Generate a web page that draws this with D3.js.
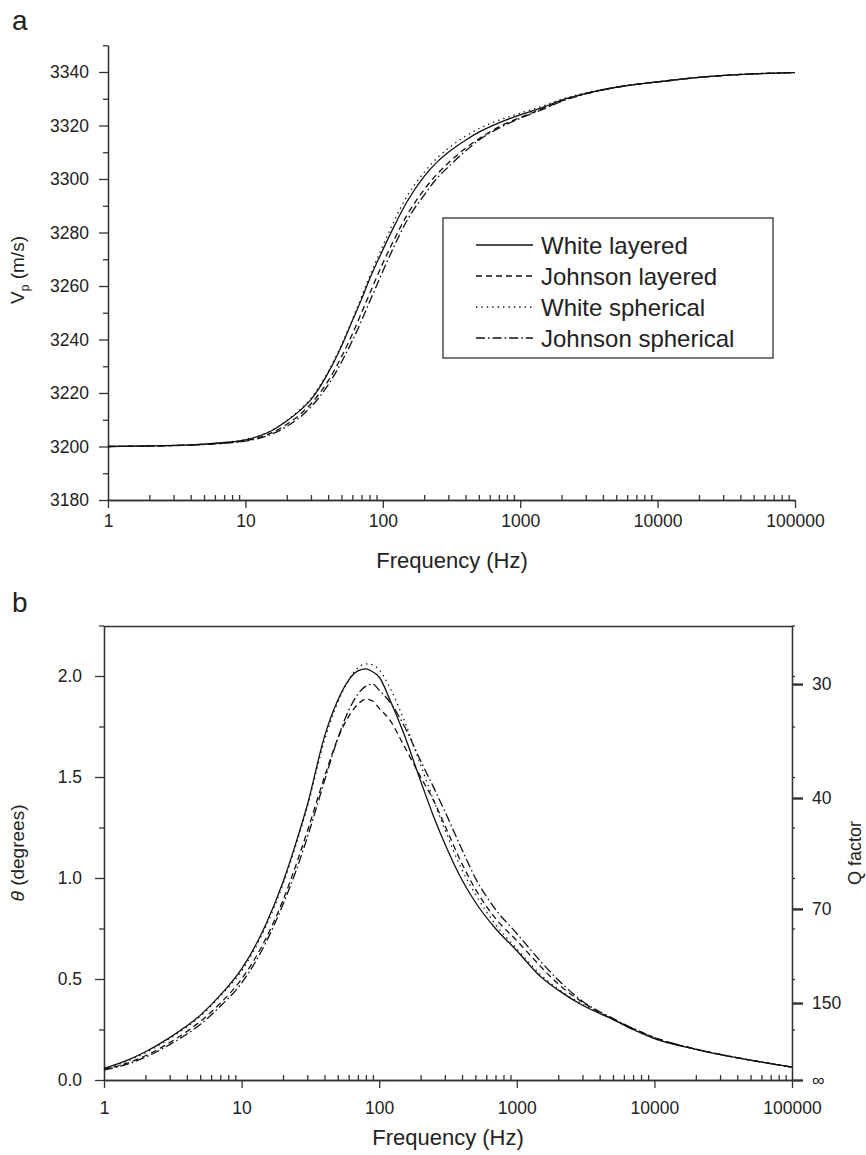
<!DOCTYPE html>
<html><head><meta charset="utf-8">
<script src="https://cdn.jsdelivr.net/npm/d3@7"></script>
<style>
body{margin:0;background:#fff}
svg{display:block}
text{font-family:"Liberation Sans",Arial,Helvetica,sans-serif;fill:#222}
</style>
</head><body><svg id="c" width="866" height="1155"></svg>
<script>
// ---------- data ----------
const seriesNames = ["White layered","Johnson layered","White spherical","Johnson spherical"];
const xTickValues = [1,10,100,1000,10000,100000];
const xTickLabels = ["1","10","100","1000","10000","100000"];

// panel a: P-wave velocity (m/s) vs frequency (Hz)
const freqA = [1,2,3,5,7,10,15,20,25,30,40,50,60,70,80,100,120,150,200,250,300,400,500,700,1000,1500,2000,3000,5000,7000,10000,20000,50000,100000];
const vWhiteLayered    = [3200,3200.2,3200.4,3200.9,3201.5,3202.5,3205.5,3209.5,3213.5,3217.5,3227.5,3237.5,3247,3255,3262.5,3273.5,3282,3291.5,3301,3306.5,3310,3314.5,3317.5,3321,3324,3327,3329.5,3332,3334.3,3335.4,3336.3,3338,3339.3,3339.8];
const vJohnsonLayered  = [3200,3200.2,3200.35,3200.8,3201.3,3202.2,3204.8,3208.3,3212,3216,3224.5,3233.5,3242,3250,3257,3268.5,3277,3286.5,3296,3302,3306,3311.5,3315,3319.5,3323,3326.5,3329.2,3331.9,3334.3,3335.4,3336.3,3338,3339.3,3339.8];
const vWhiteSpherical  = [3200,3200.2,3200.4,3200.9,3201.5,3202.6,3205.6,3209.7,3213.8,3218,3228,3238,3247.5,3256,3263.5,3275,3284,3293.5,3302.5,3308,3311.5,3316,3318.8,3322,3324.6,3327.5,3329.8,3332.2,3334.3,3335.4,3336.3,3338,3339.3,3339.8];
const vJohnsonSpherical= [3200,3200.15,3200.3,3200.7,3201.2,3202,3204.3,3207.5,3211,3214.8,3223,3231.5,3239.5,3247,3254,3265.5,3274.5,3284.5,3294,3300.5,3304.5,3310.5,3314.5,3319,3322.7,3326.3,3329,3331.8,3334.3,3335.4,3336.3,3338,3339.3,3339.8];
const yTicksA = [3180,3200,3220,3240,3260,3280,3300,3320,3340];

// panel b: attenuation angle theta (degrees) vs frequency (Hz)
const freqB = [1,1.5,2,3,5,7,10,15,20,25,30,40,50,60,70,80,90,100,120,150,200,250,300,400,500,700,1000,1500,2000,3000,5000,7000,10000,20000,50000,100000];
const thWhiteLayered    = [0.058,0.10,0.14,0.21,0.32,0.42,0.55,0.77,0.98,1.18,1.36,1.70,1.88,1.98,2.025,2.035,2.02,1.995,1.88,1.72,1.48,1.30,1.17,0.99,0.88,0.75,0.64,0.51,0.445,0.37,0.30,0.25,0.205,0.152,0.098,0.064];
const thJohnsonLayered  = [0.052,0.085,0.12,0.185,0.29,0.38,0.50,0.70,0.89,1.07,1.23,1.50,1.69,1.80,1.86,1.886,1.875,1.84,1.78,1.66,1.50,1.38,1.26,1.07,0.945,0.80,0.69,0.56,0.475,0.385,0.30,0.255,0.21,0.153,0.098,0.064];
const thWhiteSpherical  = [0.055,0.095,0.135,0.205,0.315,0.415,0.54,0.76,0.97,1.17,1.35,1.68,1.87,1.98,2.04,2.06,2.055,2.03,1.94,1.79,1.56,1.38,1.24,1.04,0.92,0.77,0.65,0.52,0.45,0.375,0.30,0.25,0.205,0.152,0.098,0.064];
const thJohnsonSpherical= [0.05,0.08,0.113,0.175,0.275,0.365,0.48,0.68,0.87,1.04,1.20,1.48,1.69,1.83,1.91,1.95,1.96,1.93,1.87,1.76,1.58,1.445,1.33,1.14,1.0,0.845,0.725,0.585,0.495,0.39,0.305,0.255,0.21,0.153,0.098,0.064];
const yTicksB = [0,0.5,1.0,1.5,2.0];
const qTickLabels = ["30","40","70","150","\u221E"];
const qTickTheta  = [1.96,1.396,0.847,0.381,0];

// ---------- drawing ----------
const svg = d3.select("#c");
const dashes = [null,"6,4","1.4,4","9,3,1.6,3"];
const AX = "#333";

function styleAxis(g, fs){
  g.selectAll("path.domain").attr("stroke",AX).attr("stroke-width",1.3);
  g.selectAll(".tick line").attr("stroke",AX).attr("stroke-width",1.3);
  g.selectAll(".tick text").style("font-size",fs+"px").attr("fill","#222");
  g.attr("font-family",null);
}
function minorDecades(){
  const m=[]; for(let e=0;e<5;e++) for(let k=2;k<=9;k++) m.push(k*Math.pow(10,e)); return m;
}
function range(a,b,s){const r=[];for(let v=a;v<=b+1e-9;v+=s)r.push(+v.toFixed(4));return r;}

// ===== Panel a =====
const xA = d3.scaleLog().domain([1,1e5]).range([108,795]);
const yA = d3.scaleLinear().domain([3180,3350]).range([500,45.25]);

const gAyMinor = svg.append("g").attr("transform","translate(108,0)")
  .call(d3.axisLeft(yA).tickValues(range(3190,3350,20)).tickSize(5).tickSizeOuter(0).tickFormat(""));
styleAxis(gAyMinor,17.5);
const gAy = svg.append("g").attr("transform","translate(108,0)")
  .call(d3.axisLeft(yA).tickValues(yTicksA).tickSize(9).tickPadding(10).tickSizeOuter(0).tickFormat(d3.format("d")));
styleAxis(gAy,17.5);

const gAxMinor = svg.append("g").attr("transform","translate(0,500)")
  .call(d3.axisBottom(xA).tickValues(minorDecades()).tickSize(-5).tickSizeOuter(0).tickFormat(""));
styleAxis(gAxMinor,17.5);
const gAx = svg.append("g").attr("transform","translate(0,500)")
  .call(d3.axisBottom(xA).tickValues(xTickValues).tickSize(8).tickPadding(7).tickSizeOuter(0).tickFormat((d,i)=>xTickLabels[i]));
styleAxis(gAx,17.5);

const lineA = d3.line().x(d=>xA(d[0])).y(d=>yA(d[1])).curve(d3.curveMonotoneX);
[vWhiteLayered,vJohnsonLayered,vWhiteSpherical,vJohnsonSpherical].forEach((s,i)=>{
  svg.append("path").datum(freqA.map((f,j)=>[f,s[j]]))
    .attr("d",lineA).attr("fill","none").attr("stroke","#111").attr("stroke-width",1.3)
    .attr("stroke-dasharray",dashes[i]);
});

// legend
const leg = svg.append("g");
leg.append("rect").attr("x",443).attr("y",218).attr("width",330).attr("height",140)
  .attr("fill","#fff").attr("stroke",AX).attr("stroke-width",1.3);
seriesNames.forEach((n,i)=>{
  const y = 245 + i*31;
  leg.append("line").attr("x1",476).attr("x2",533).attr("y1",y).attr("y2",y)
    .attr("stroke","#111").attr("stroke-width",1.3).attr("stroke-dasharray",dashes[i]);
  leg.append("text").attr("x",541).attr("y",y).attr("dy","0.36em").style("font-size","24px").text(n);
});

svg.append("text").attr("x",452).attr("y",568).attr("text-anchor","middle").style("font-size","22px").text("Frequency (Hz)");
const tA = svg.append("text").attr("transform","translate(24,270) rotate(-90)").attr("text-anchor","middle").style("font-size","19px");
tA.append("tspan").text("V");
tA.append("tspan").attr("dy","5").style("font-size","12px").text("p");
tA.append("tspan").attr("dy","-5").text(" (m/s)");
svg.append("text").attr("x",12).attr("y",30).style("font-size","28px").text("a");

// ===== Panel b =====
const xB = d3.scaleLog().domain([1,1e5]).range([104,792]);
const yB = d3.scaleLinear().domain([0,2.25]).range([1080,625.5]);

const gByMinor = svg.append("g").attr("transform","translate(104,0)")
  .call(d3.axisLeft(yB).tickValues(range(0.25,2.25,0.5)).tickSize(5).tickSizeOuter(0).tickFormat(""));
styleAxis(gByMinor,17.5);
const gBy = svg.append("g").attr("transform","translate(104,0)")
  .call(d3.axisLeft(yB).tickValues(yTicksB).tickSize(9).tickPadding(13).tickSizeOuter(0).tickFormat(d3.format(".1f")));
styleAxis(gBy,17.5);

const gBrMinor = svg.append("g").attr("transform","translate(792,0)")
  .call(d3.axisRight(yB).tickValues(range(0.25,2.25,0.25)).tickSize(3).tickSizeOuter(0).tickFormat(""));
styleAxis(gBrMinor,17.5);
const gBr = svg.append("g").attr("transform","translate(792,0)")
  .call(d3.axisRight(yB).tickValues(qTickTheta).tickSize(11).tickPadding(9).tickSizeOuter(0).tickFormat((d,i)=>qTickLabels[i]));
styleAxis(gBr,17.5);
gBr.selectAll(".tick line").attr("stroke-width",2.4);

const gBtop = svg.append("g").attr("transform","translate(0,626)")
  .call(d3.axisTop(xB).tickValues([]).tickSizeOuter(0));
styleAxis(gBtop,17.5);

const gBxMinor = svg.append("g").attr("transform","translate(0,1080)")
  .call(d3.axisBottom(xB).tickValues(minorDecades()).tickSize(-5).tickSizeOuter(0).tickFormat(""));
styleAxis(gBxMinor,17.5);
const gBx = svg.append("g").attr("transform","translate(0,1080)")
  .call(d3.axisBottom(xB).tickValues(xTickValues).tickSize(8).tickPadding(14).tickSizeOuter(0).tickFormat((d,i)=>xTickLabels[i]));
styleAxis(gBx,17.5);

const lineB = d3.line().x(d=>xB(d[0])).y(d=>yB(d[1])).curve(d3.curveMonotoneX);
[thWhiteLayered,thJohnsonLayered,thWhiteSpherical,thJohnsonSpherical].forEach((s,i)=>{
  svg.append("path").datum(freqB.map((f,j)=>[f,s[j]]))
    .attr("d",lineB).attr("fill","none").attr("stroke","#111").attr("stroke-width",1.3)
    .attr("stroke-dasharray",dashes[i]);
});

svg.append("text").attr("x",448).attr("y",1145).attr("text-anchor","middle").style("font-size","22px").text("Frequency (Hz)");
const tB = svg.append("text").attr("transform","translate(24,853) rotate(-90)").attr("text-anchor","middle").style("font-size","19px");
tB.append("tspan").style("font-style","italic").text("\u03B8");
tB.append("tspan").text(" (degrees)");
svg.append("text").attr("transform","translate(861,853) rotate(-90)").attr("text-anchor","middle").style("font-size","18px").text("Q factor");
svg.append("text").attr("x",12).attr("y",612).style("font-size","28px").text("b");
</script>
</body></html>
